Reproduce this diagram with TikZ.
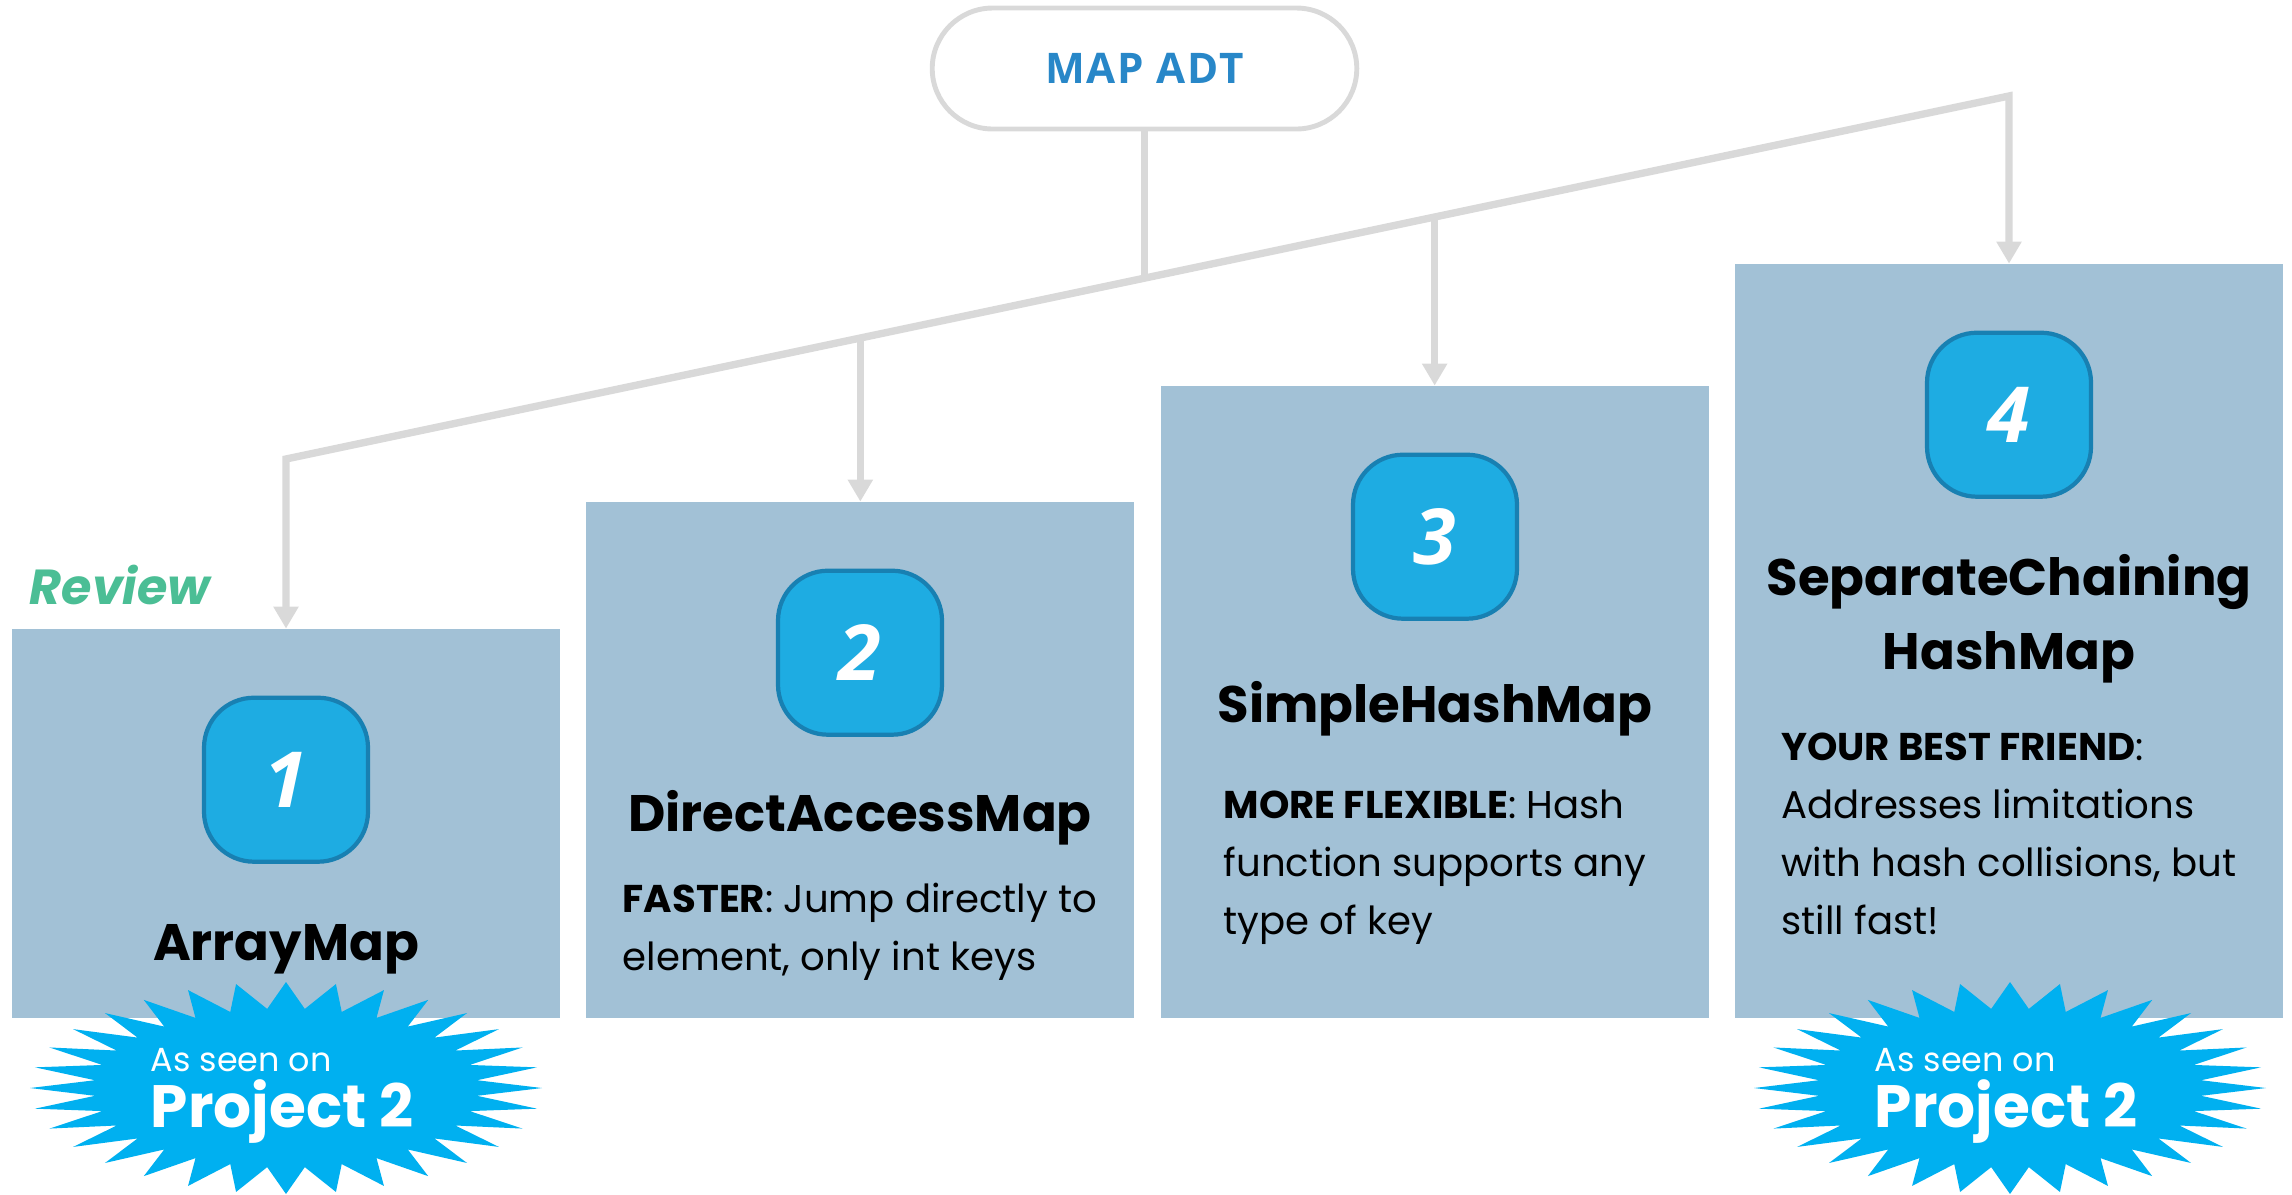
\documentclass[tikz,border=0pt]{standalone}
\usepackage{fontspec}
\setmainfont{Poppins}
\newfontfamily\adtfont[LetterSpace=4]{Open Sans}
\newfontfamily\numfont{Open Sans}
\usetikzlibrary{shapes.misc,positioning,calc,arrows.meta}

\definecolor{cardblue}{RGB}{162,193,214}
\definecolor{badgefill}{RGB}{30,172,226}
\definecolor{badgeedge}{RGB}{24,128,178}
\definecolor{burstblue}{RGB}{0,176,240}
\definecolor{linkgray}{RGB}{217,217,217}
\definecolor{adtblue}{RGB}{40,135,200}
\definecolor{reviewgreen}{RGB}{75,190,149}

\tikzset{
	card/.style={fill=cardblue, minimum width=5.48cm, anchor=south, inner sep=0pt},
	numbadge/.style={draw=badgeedge, line width=1.2pt, fill=badgefill, rounded corners=0.5cm,
		minimum width=1.64cm, minimum height=1.64cm, text=white,
		font=\numfont\fontsize{22}{22}\selectfont\bfseries\itshape},
	cardtitle/.style={inner sep=0pt, align=center, font=\fontsize{14.6}{21}\selectfont\bfseries},
	cardtext/.style={inner sep=0pt, align=left, font=\fontsize{11}{16.5}\selectfont},
	link/.style={draw=linkgray, line width=2.1pt},
	tip/.style={-{Triangle[width=0.24cm,length=0.22cm]}},
	burstlabel/.style={inner sep=0pt, align=left, text=white, font=\fontsize{17}{16}\selectfont}
}

\begin{document}
\begin{tikzpicture}
	\useasboundingbox (0,0) rectangle (22.92,-11.94);

	% top node
	\node [draw=linkgray, line width=1.4pt, rounded rectangle, minimum width=4.48cm, minimum height=1.21cm,
		text=adtblue, font=\adtfont\fontsize{12}{14}\selectfont\bfseries] (adt) at (11.445,-0.685) {MAP ADT};

	% boxes
	\node [card, minimum height=3.89cm] (arraybox) at (2.86,-10.19) {};
	\node [card, minimum height=5.16cm] (directbox) at (8.60,-10.19) {};
	\node [card, minimum height=6.32cm] (simplebox) at (14.35,-10.19) {};
	\node [card, minimum height=7.54cm] (chainbox) at (20.09,-10.19) {};

	% connectors
	\coordinate (lend) at (2.86,-4.59);
	\coordinate (rend) at (20.09,-0.96);
	\coordinate (jdirect) at ($(lend)!1/3!(rend)$);
	\coordinate (jsimple) at ($(lend)!2/3!(rend)$);
	\coordinate (jadt) at ($(lend)!0.5!(rend)$);
	\draw [link, {Triangle[width=0.24cm,length=0.22cm]}-{Triangle[width=0.24cm,length=0.22cm]}]
		(arraybox.north) -- (lend) -- (rend) -- (chainbox.north);
	\draw [link] (adt.south) -- (adt.south |- jadt);
	\draw [link, tip] (jdirect) -- (jdirect |- directbox.north);
	\draw [link, tip] (jsimple) -- (jsimple |- simplebox.north);

	% badges
	\node [numbadge, below=0.67cm of arraybox.north] (one) {1};
	\node [numbadge, below=0.67cm of directbox.north] (two) {2};
	\node [numbadge, below=0.67cm of simplebox.north] (three) {3};
	\node [numbadge, below=0.67cm of chainbox.north] (four) {4};

	% names
	\node [cardtitle, below=0.6cm of one] (arraytitle) {ArrayMap};
	\node [cardtitle, below=0.53cm of two] (directtitle) {DirectAccessMap};
	\node [cardtitle, below=0.6cm of three] (simpletitle) {SimpleHashMap};
	\node [cardtitle, below=0.55cm of four] (chaintitle) {SeparateChaining\\HashMap};

	% descriptions
	\node [cardtext, below=0.36cm of directtitle] (directtext)
		{\textbf{FASTER}: Jump directly to\\element, only int keys};
	\node [cardtext, below=0.52cm of simpletitle] (simpletext)
		{\textbf{MORE FLEXIBLE}: Hash\\function supports any\\type of key};
	\node [cardtext, below=0.48cm of chaintitle] (chaintext)
		{\textbf{YOUR BEST FRIEND}:\\Addresses limitations\\with hash collisions, but\\still fast!};

	\node [text=reviewgreen, font=\fontsize{14}{18}\selectfont\bfseries\itshape] (review) at (1.20,-5.85) {Review};

	% bursts
	\foreach \bx/\nm in {2.86/seenone,20.10/seenfour} {
		\fill [burstblue, shift={(\bx,-10.88)}] plot [samples=65, domain=0:64, variable=\k]
			({ifthenelse(mod(round(\k),2)==0,2.56,1.92)*cos(\k*5.625)},
			 {ifthenelse(mod(round(\k),2)==0,1.06,0.795)*sin(\k*5.625)}) -- cycle;
		\node [burstlabel] (\nm) at (\bx-0.04,-10.96)
			{{\fontsize{9.5}{12}\selectfont As seen on}\\\textbf{Project 2}};
	}
\end{tikzpicture}
\end{document}
